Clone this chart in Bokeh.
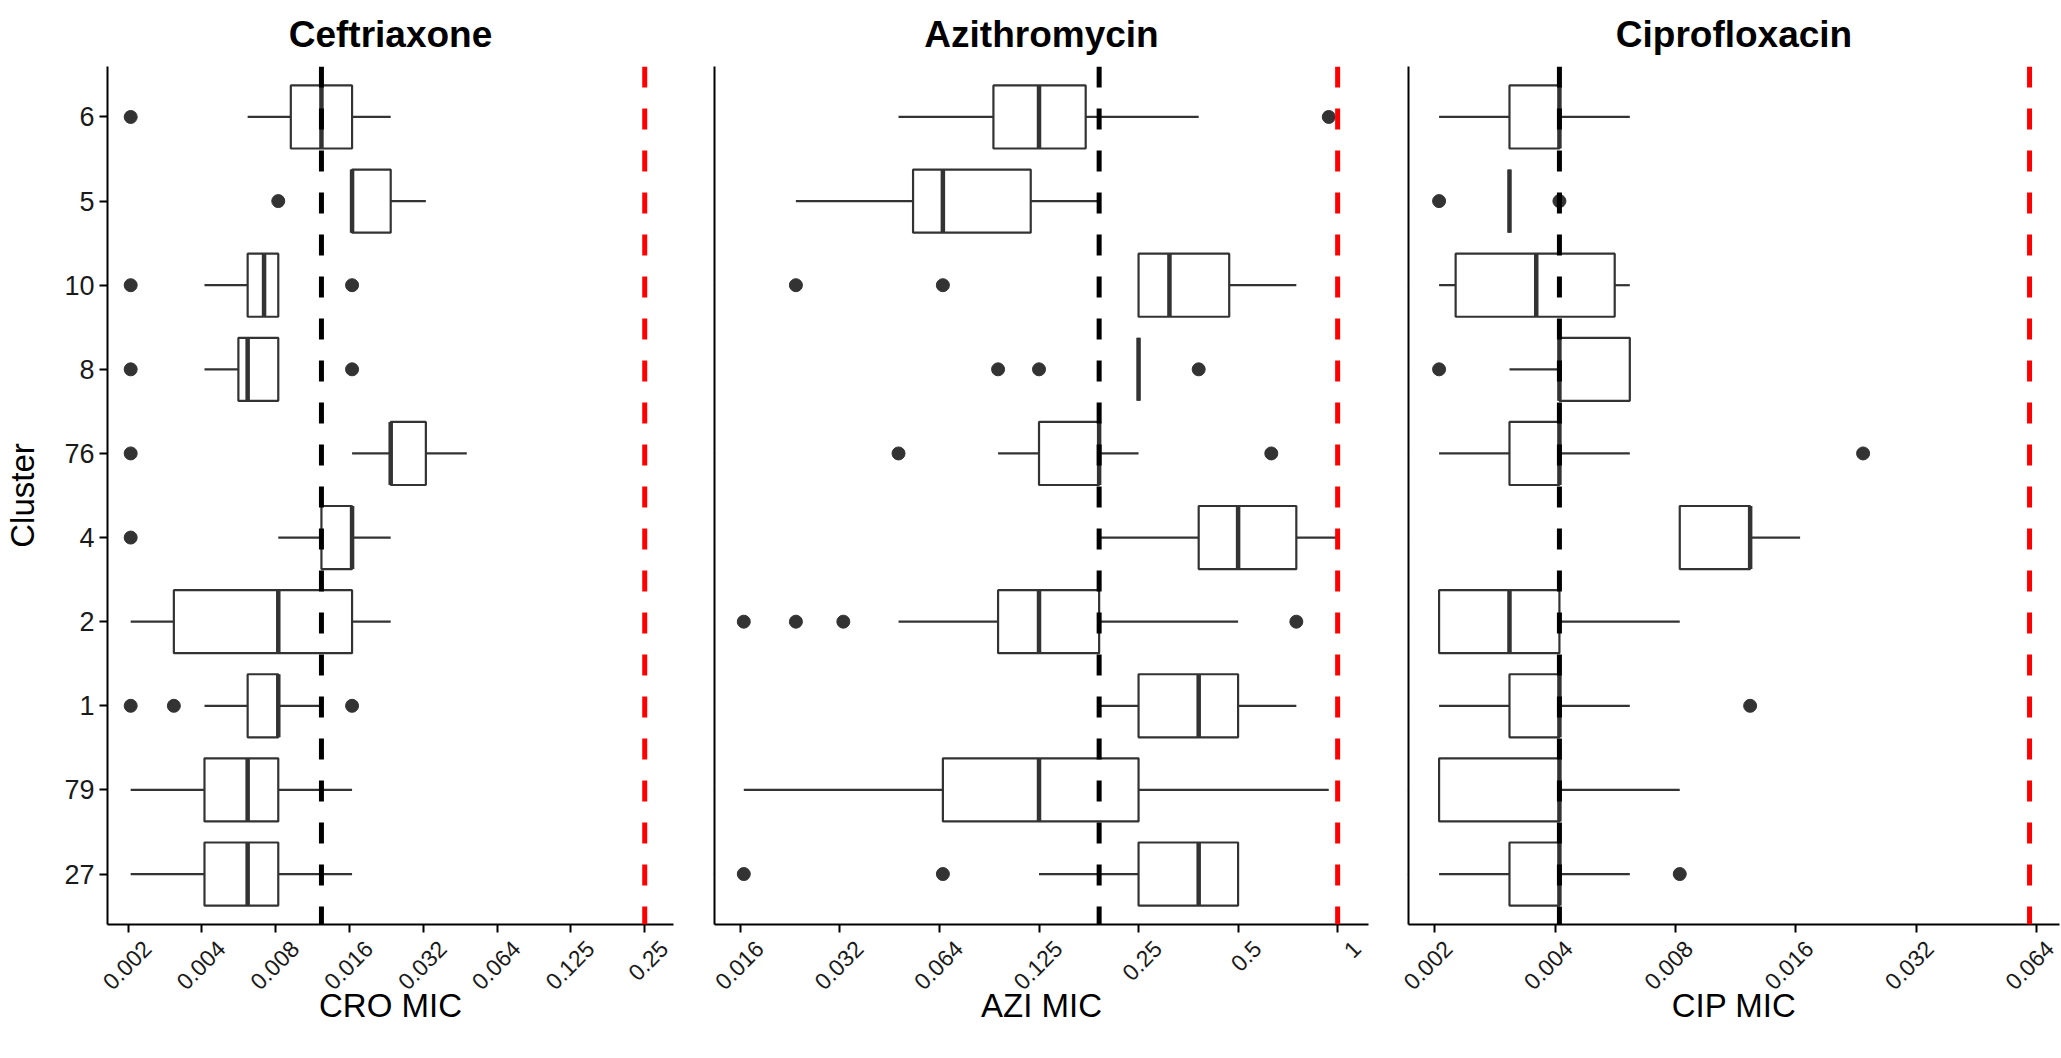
import math
from bokeh.plotting import figure
from bokeh.layouts import row
from bokeh.models import (FactorRange, Range1d, FixedTicker, Span, ColumnDataSource,
                          LogAxis)
from bokeh.embed import file_html
from bokeh.resources import INLINE

# ---------------- data ----------------
clusters = ["27", "79", "1", "2", "4", "76", "8", "10", "5", "6"]  # bottom -> top

# Ceftriaxone (CRO) box statistics per cluster (same order as clusters)
cro_lo  = [0.002, 0.002, 0.004, 0.002, 0.008, 0.016, 0.004,  0.004, 0.016, 0.006]
cro_q1  = [0.004, 0.004, 0.006, 0.003, 0.012, 0.023, 0.0055, 0.006, 0.016, 0.009]
cro_med = [0.006, 0.006, 0.008, 0.008, 0.016, 0.023, 0.006,  0.007, 0.016, 0.012]
cro_q3  = [0.008, 0.008, 0.008, 0.016, 0.016, 0.032, 0.008,  0.008, 0.023, 0.016]
cro_hi  = [0.016, 0.016, 0.012, 0.023, 0.023, 0.047, 0.008,  0.008, 0.032, 0.023]
cro_out_cluster = ["1", "1", "1", "4", "76", "8", "8", "10", "10", "5", "6"]
cro_out_value   = [0.002, 0.003, 0.016, 0.002, 0.002, 0.002, 0.016, 0.002, 0.016, 0.008, 0.002]

# Azithromycin (AZI)
azi_lo  = [0.125, 0.016, 0.19, 0.047, 0.19, 0.094, 0.25, 0.25, 0.023, 0.047]
azi_q1  = [0.25,  0.064, 0.25, 0.094, 0.38, 0.125, 0.25, 0.25, 0.052, 0.091]
azi_med = [0.38,  0.125, 0.38, 0.125, 0.5,  0.19,  0.25, 0.31, 0.064, 0.125]
azi_q3  = [0.5,   0.25,  0.5,  0.19,  0.75, 0.19,  0.25, 0.47, 0.118, 0.173]
azi_hi  = [0.5,   0.94,  0.75, 0.5,   1.0,  0.25,  0.25, 0.75, 0.19,  0.38]
azi_out_cluster = ["27", "27", "2", "2", "2", "2", "76", "76", "8", "8", "8", "10", "10", "6"]
azi_out_value   = [0.016, 0.064, 0.016, 0.023, 0.032, 0.75, 0.047, 0.63, 0.094, 0.125, 0.38, 0.023, 0.064, 0.94]

# Ciprofloxacin (CIP)
cip_lo  = [0.002, 0.002, 0.002, 0.002, 0.008, 0.002, 0.003, 0.002,  0.003, 0.002]
cip_q1  = [0.003, 0.002, 0.003, 0.002, 0.008, 0.003, 0.004, 0.0022, 0.003, 0.003]
cip_med = [0.004, 0.004, 0.004, 0.003, 0.012, 0.004, 0.004, 0.0035, 0.003, 0.004]
cip_q3  = [0.004, 0.004, 0.004, 0.004, 0.012, 0.004, 0.006, 0.0055, 0.003, 0.004]
cip_hi  = [0.006, 0.008, 0.006, 0.008, 0.016, 0.006, 0.006, 0.006,  0.003, 0.006]
cip_out_cluster = ["27", "1", "76", "8", "5", "5"]
cip_out_value   = [0.008, 0.012, 0.023, 0.002, 0.002, 0.004]

# reference lines (black: dashed marker, red: breakpoint)
cro_black, cro_red = 0.012, 0.25
azi_black, azi_red = 0.19, 1.0
cip_black, cip_red = 0.004, 0.06

# tick breaks (powers of two) and their labels
cro_tick_exp = [-9, -8, -7, -6, -5, -4, -3, -2]
cro_tick_lab = ["0.002", "0.004", "0.008", "0.016", "0.032", "0.064", "0.125", "0.25"]
azi_tick_exp = [-6, -5, -4, -3, -2, -1, 0]
azi_tick_lab = ["0.016", "0.032", "0.064", "0.125", "0.25", "0.5", "1"]
cip_tick_exp = [-9, -8, -7, -6, -5, -4]
cip_tick_lab = ["0.002", "0.004", "0.008", "0.016", "0.032", "0.064"]

FONT = "Liberation Sans"
BOX_COL = "#333333"
H = 1058
FRAME_TOP, FRAME_BOTTOM = 66, 924


def style_axis(ax):
    ax.axis_line_width = 2
    ax.axis_line_color = "black"
    ax.major_tick_line_width = 2
    ax.major_tick_line_color = "black"
    ax.major_tick_out = 8
    ax.major_tick_in = 0
    ax.minor_tick_line_color = None
    ax.major_label_text_font = FONT
    ax.major_label_text_font_size = "27px"
    ax.major_label_text_color = "#1a1a1a"
    ax.axis_label_text_font = FONT
    ax.axis_label_text_font_size = "33px"
    ax.axis_label_text_font_style = "normal"
    ax.axis_label_text_color = "black"


def panel(title, xlabel, lo, q1, med, q3, hi, oc, ov, black, red,
          tick_exp, tick_lab, xr, bl, frame_w, br, first, label_shift):
    width = bl + frame_w + br
    p = figure(width=width, height=H, x_axis_type="log",
               y_range=FactorRange(factors=clusters, range_padding=0.1,
                                   range_padding_units="absolute"),
               x_range=Range1d(2 ** xr[0], 2 ** xr[1]),
               output_backend="svg", toolbar_location=None,
               min_border_left=bl, min_border_right=br,
               min_border_top=FRAME_TOP, min_border_bottom=H - FRAME_BOTTOM)
    p.title.text = title
    p.title.align = "center"
    p.title.vertical_align = "middle"
    p.title.text_font = FONT
    p.title.text_font_size = "37px"
    p.title.text_font_style = "bold"
    p.title.text_color = "black"
    p.title.standoff = 22
    p.outline_line_color = None
    p.xgrid.visible = False
    p.ygrid.visible = False
    p.background_fill_color = "white"
    p.border_fill_color = "white"

    src = ColumnDataSource(dict(y=clusters, lo=lo, q1=q1, med=med, q3=q3, hi=hi))
    p.segment(x0="lo", y0="y", x1="q1", y1="y", source=src,
              line_color=BOX_COL, line_width=2.2)
    p.segment(x0="q3", y0="y", x1="hi", y1="y", source=src,
              line_color=BOX_COL, line_width=2.2)
    p.hbar(y="y", left="q1", right="q3", height=0.75, source=src,
           fill_color="white", line_color=BOX_COL, line_width=2.2)
    p.hbar(y="y", left="med", right="med", height=0.75, source=src,
           fill_color=None, line_color=BOX_COL, line_width=4.5)
    p.scatter(x=ov, y=oc, size=13, fill_color=BOX_COL, line_color=BOX_COL)

    p.add_layout(Span(location=black, dimension="height", line_color="black",
                      line_width=5, line_dash="21 21"))
    p.add_layout(Span(location=red, dimension="height", line_color="#FF0000",
                      line_width=5, line_dash="21 21"))

    # axis line + tick marks at the true break positions
    ticks = [2.0 ** e for e in tick_exp]
    style_axis(p.xaxis[0])
    p.xaxis.ticker = FixedTicker(ticks=ticks, minor_ticks=[])
    p.xaxis.major_label_overrides = {t: "" for t in ticks}
    p.xaxis.major_label_text_font_size = "1px"
    p.xaxis.major_label_standoff = 0

    # rotated tick labels, nudged right of their ticks as in the original
    shift = label_shift * (xr[1] - xr[0]) / frame_w
    lab_pos = [2.0 ** (e + shift) for e in tick_exp]
    lab_axis = LogAxis(ticker=FixedTicker(ticks=lab_pos, minor_ticks=[]),
                       major_label_overrides={t: l for t, l in zip(lab_pos, tick_lab)})
    style_axis(lab_axis)
    lab_axis.axis_line_color = None
    lab_axis.major_tick_line_color = None
    lab_axis.major_tick_out = 0
    lab_axis.major_label_text_font_size = "23px"
    lab_axis.major_label_orientation = math.pi / 4
    lab_axis.major_label_standoff = 12
    lab_axis.axis_label = xlabel
    lab_axis.axis_label_standoff = -13
    p.add_layout(lab_axis, "below")

    style_axis(p.yaxis[0])
    if first:
        p.yaxis.axis_label = "Cluster"
        p.yaxis.major_label_standoff = 5
        p.yaxis.axis_label_standoff = 20
    else:
        p.yaxis.major_tick_line_color = None
        p.yaxis.major_tick_out = 0
        p.yaxis.major_label_overrides = {c: "" for c in clusters}
        p.yaxis.major_label_standoff = 0
        p.yaxis.major_label_text_font_size = "1px"
    return p


p1 = panel("Ceftriaxone", "CRO MIC", cro_lo, cro_q1, cro_med, cro_q3, cro_hi,
           cro_out_cluster, cro_out_value, cro_black, cro_red,
           cro_tick_exp, cro_tick_lab, (-9.28, -1.61), 107, 566, 3, True, 19)
p2 = panel("Azithromycin", "AZI MIC", azi_lo, azi_q1, azi_med, azi_q3, azi_hi,
           azi_out_cluster, azi_out_value, azi_black, azi_red,
           azi_tick_exp, azi_tick_lab, (-6.26, 0.31), 38, 654, 3, False, 19)
p3 = panel("Ciprofloxacin", "CIP MIC", cip_lo, cip_q1, cip_med, cip_q3, cip_hi,
           cip_out_cluster, cip_out_value, cip_black, cip_red,
           cip_tick_exp, cip_tick_lab, (-9.22, -3.81), 37, 651, 2, False, 13)

layout = row(p1, p2, p3)
open("out.html", "w").write(file_html(layout, INLINE))
